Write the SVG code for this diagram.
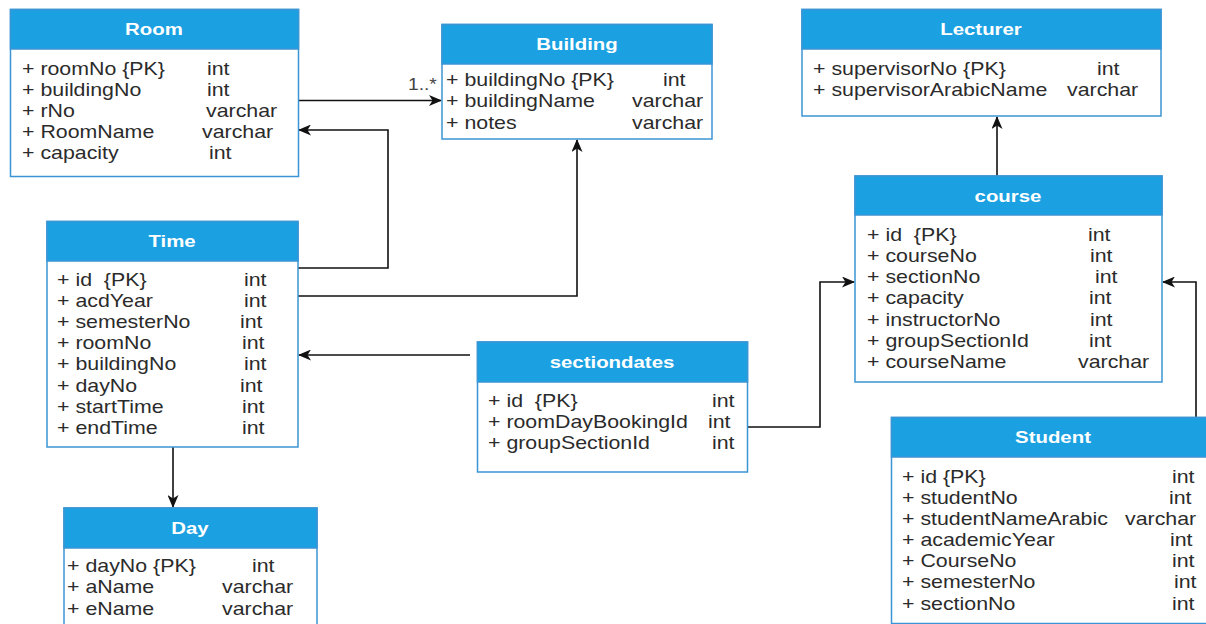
<svg xmlns="http://www.w3.org/2000/svg" width="1206" height="624" viewBox="0 0 1206 624">
<style>
.box{fill:#ffffff;stroke:#3b95d4;stroke-width:1.5}
.hdr{fill:#1ba1e2;stroke:#3b95d4;stroke-width:1.5}
.ht{font-family:"Liberation Sans",Arial,sans-serif;font-size:17px;font-weight:bold;fill:#ffffff;text-anchor:middle}
.t{font-family:"Liberation Sans",Arial,sans-serif;font-size:17.5px;fill:#2b2b2b;white-space:pre}
.lbl{font-family:"Liberation Sans",Arial,sans-serif;font-size:16px;fill:#444}
.c{fill:none;stroke:#111;stroke-width:1.6}
</style>
<defs>
<marker id="arr" viewBox="0 0 13 11" refX="12" refY="5.5" markerWidth="13" markerHeight="11" markerUnits="userSpaceOnUse" orient="auto">
<path d="M0,0 L13,5.5 L0,11 L3.5,5.5 z" fill="#111"/>
</marker>
</defs>
<rect width="1206" height="624" fill="#ffffff"/>

<g id="connectors">
<path class="c" d="M298,100.5 H441" marker-end="url(#arr)"/>
<path class="c" d="M298,268 H388 V130 H299" marker-end="url(#arr)"/>
<path class="c" d="M298,296 H577 V140" marker-end="url(#arr)"/>
<path class="c" d="M470,355 H299" marker-end="url(#arr)"/>
<path class="c" d="M747,427 H820 V282 H854" marker-end="url(#arr)"/>
<path class="c" d="M997,176 V117" marker-end="url(#arr)"/>
<path class="c" d="M1196,417 V282 H1163" marker-end="url(#arr)"/>
<path class="c" d="M173,447 V507" marker-end="url(#arr)"/>
<text class="lbl" transform="translate(408,90) scale(1.2,1)">1..*</text>
</g>

<g id="room">
<rect class="box" x="10.5" y="9.5" width="288" height="167"/>
<rect class="hdr" x="10.5" y="9.5" width="288" height="39.5"/>
<text class="ht" transform="translate(154,35) scale(1.2,1)">Room</text>
<text class="t" transform="translate(22,75) scale(1.22,1)">+ roomNo {PK}</text>
<text class="t" transform="translate(207,75) scale(1.22,1)">int</text>
<text class="t" transform="translate(22,96) scale(1.22,1)">+ buildingNo</text>
<text class="t" transform="translate(207,96) scale(1.22,1)">int</text>
<text class="t" transform="translate(22,117) scale(1.22,1)">+ rNo</text>
<text class="t" transform="translate(206,117) scale(1.22,1)">varchar</text>
<text class="t" transform="translate(22,138) scale(1.22,1)">+ RoomName</text>
<text class="t" transform="translate(202,138) scale(1.22,1)">varchar</text>
<text class="t" transform="translate(22,159) scale(1.22,1)">+ capacity</text>
<text class="t" transform="translate(209,159) scale(1.22,1)">int</text>
</g>

<g id="building">
<rect class="box" x="442" y="24.5" width="270" height="114.5"/>
<rect class="hdr" x="442" y="24.5" width="270" height="39.5"/>
<text class="ht" transform="translate(577,50) scale(1.2,1)">Building</text>
<text class="t" transform="translate(446,86) scale(1.22,1)">+ buildingNo {PK}</text>
<text class="t" transform="translate(663,86) scale(1.22,1)">int</text>
<text class="t" transform="translate(446,107) scale(1.22,1)">+ buildingName</text>
<text class="t" transform="translate(632,107) scale(1.22,1)">varchar</text>
<text class="t" transform="translate(446,129) scale(1.22,1)">+ notes</text>
<text class="t" transform="translate(632,129) scale(1.22,1)">varchar</text>
</g>

<g id="lecturer">
<rect class="box" x="802" y="9.5" width="359" height="106.5"/>
<rect class="hdr" x="802" y="9.5" width="359" height="39.5"/>
<text class="ht" transform="translate(981,35) scale(1.2,1)">Lecturer</text>
<text class="t" transform="translate(813,75) scale(1.22,1)">+ supervisorNo {PK}</text>
<text class="t" transform="translate(1097,75) scale(1.22,1)">int</text>
<text class="t" transform="translate(813,96) scale(1.22,1)">+ supervisorArabicName</text>
<text class="t" transform="translate(1067,96) scale(1.22,1)">varchar</text>
</g>

<g id="time">
<rect class="box" x="47" y="221.5" width="251" height="225.5"/>
<rect class="hdr" x="47" y="221.5" width="251" height="39.5"/>
<text class="ht" transform="translate(172,247) scale(1.2,1)">Time</text>
<text class="t" transform="translate(57,286) scale(1.22,1)">+ id  {PK}</text>
<text class="t" transform="translate(244,286) scale(1.22,1)">int</text>
<text class="t" transform="translate(57,307) scale(1.22,1)">+ acdYear</text>
<text class="t" transform="translate(244,307) scale(1.22,1)">int</text>
<text class="t" transform="translate(57,328) scale(1.22,1)">+ semesterNo</text>
<text class="t" transform="translate(240,328) scale(1.22,1)">int</text>
<text class="t" transform="translate(57,349) scale(1.22,1)">+ roomNo</text>
<text class="t" transform="translate(242,349) scale(1.22,1)">int</text>
<text class="t" transform="translate(57,370) scale(1.22,1)">+ buildingNo</text>
<text class="t" transform="translate(244,370) scale(1.22,1)">int</text>
<text class="t" transform="translate(57,392) scale(1.22,1)">+ dayNo</text>
<text class="t" transform="translate(240,392) scale(1.22,1)">int</text>
<text class="t" transform="translate(57,413) scale(1.22,1)">+ startTime</text>
<text class="t" transform="translate(242,413) scale(1.22,1)">int</text>
<text class="t" transform="translate(57,434) scale(1.22,1)">+ endTime</text>
<text class="t" transform="translate(242,434) scale(1.22,1)">int</text>
</g>

<g id="sectiondates">
<rect class="box" x="477.5" y="342" width="270" height="130"/>
<rect class="hdr" x="477.5" y="342" width="270" height="40"/>
<text class="ht" transform="translate(612,368) scale(1.2,1)">sectiondates</text>
<text class="t" transform="translate(488,407) scale(1.22,1)">+ id  {PK}</text>
<text class="t" transform="translate(712,407) scale(1.22,1)">int</text>
<text class="t" transform="translate(488,428) scale(1.22,1)">+ roomDayBookingId</text>
<text class="t" transform="translate(708,428) scale(1.22,1)">int</text>
<text class="t" transform="translate(488,449) scale(1.22,1)">+ groupSectionId</text>
<text class="t" transform="translate(712,449) scale(1.22,1)">int</text>
</g>

<g id="course">
<rect class="box" x="855" y="176" width="307" height="206"/>
<rect class="hdr" x="855" y="176" width="307" height="39"/>
<text class="ht" transform="translate(1008,202) scale(1.2,1)">course</text>
<text class="t" transform="translate(867,241) scale(1.22,1)">+ id  {PK}</text>
<text class="t" transform="translate(1088,241) scale(1.22,1)">int</text>
<text class="t" transform="translate(867,262) scale(1.22,1)">+ courseNo</text>
<text class="t" transform="translate(1090,262) scale(1.22,1)">int</text>
<text class="t" transform="translate(867,283) scale(1.22,1)">+ sectionNo</text>
<text class="t" transform="translate(1095,283) scale(1.22,1)">int</text>
<text class="t" transform="translate(867,304) scale(1.22,1)">+ capacity</text>
<text class="t" transform="translate(1089,304) scale(1.22,1)">int</text>
<text class="t" transform="translate(867,326) scale(1.22,1)">+ instructorNo</text>
<text class="t" transform="translate(1090,326) scale(1.22,1)">int</text>
<text class="t" transform="translate(867,347) scale(1.22,1)">+ groupSectionId</text>
<text class="t" transform="translate(1089,347) scale(1.22,1)">int</text>
<text class="t" transform="translate(867,368) scale(1.22,1)">+ courseName</text>
<text class="t" transform="translate(1078,368) scale(1.22,1)">varchar</text>
</g>

<g id="student">
<rect class="box" x="891.5" y="417.5" width="330" height="206"/>
<rect class="hdr" x="891.5" y="417.5" width="330" height="39.5"/>
<text class="ht" transform="translate(1053,443) scale(1.2,1)">Student</text>
<text class="t" transform="translate(902,483) scale(1.22,1)">+ id {PK}</text>
<text class="t" transform="translate(1172,483) scale(1.22,1)">int</text>
<text class="t" transform="translate(902,504) scale(1.22,1)">+ studentNo</text>
<text class="t" transform="translate(1169,504) scale(1.22,1)">int</text>
<text class="t" transform="translate(902,525) scale(1.22,1)">+ studentNameArabic</text>
<text class="t" transform="translate(1125,525) scale(1.22,1)">varchar</text>
<text class="t" transform="translate(902,546) scale(1.22,1)">+ academicYear</text>
<text class="t" transform="translate(1170,546) scale(1.22,1)">int</text>
<text class="t" transform="translate(902,567) scale(1.22,1)">+ CourseNo</text>
<text class="t" transform="translate(1172,567) scale(1.22,1)">int</text>
<text class="t" transform="translate(902,588) scale(1.22,1)">+ semesterNo</text>
<text class="t" transform="translate(1174,588) scale(1.22,1)">int</text>
<text class="t" transform="translate(902,610) scale(1.22,1)">+ sectionNo</text>
<text class="t" transform="translate(1172,610) scale(1.22,1)">int</text>
</g>

<g id="day">
<rect class="box" x="64" y="508" width="253" height="130"/>
<rect class="hdr" x="64" y="508" width="253" height="40"/>
<text class="ht" transform="translate(190,534) scale(1.2,1)">Day</text>
<text class="t" transform="translate(67,572) scale(1.22,1)">+ dayNo {PK}</text>
<text class="t" transform="translate(252,572) scale(1.22,1)">int</text>
<text class="t" transform="translate(67,593) scale(1.22,1)">+ aName</text>
<text class="t" transform="translate(222,593) scale(1.22,1)">varchar</text>
<text class="t" transform="translate(67,615) scale(1.22,1)">+ eName</text>
<text class="t" transform="translate(222,615) scale(1.22,1)">varchar</text>
</g>
</svg>
